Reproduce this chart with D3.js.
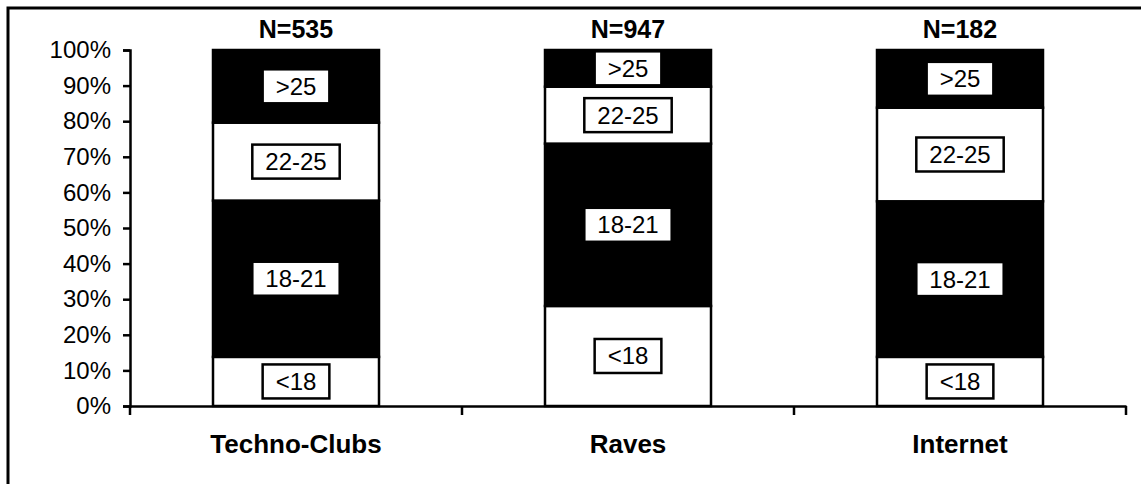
<!DOCTYPE html>
<html>
<head>
<meta charset="utf-8">
<script src="https://cdn.jsdelivr.net/npm/d3@7"></script>
<style>
  html, body { margin: 0; padding: 0; background: #fff; }
  svg { display: block; font-family: "Liberation Sans", Arial, sans-serif; }
</style>
</head>
<body>
<svg id="chart" width="1141" height="484"></svg>
<script>
// ---- data ----
const categories = ["Techno-Clubs", "Raves", "Internet"];
const sampleSizes = ["N=535", "N=947", "N=182"];
const ageGroups = ["<18", "18-21", "22-25", ">25"];
const under18 = [13.8, 28.1, 13.8];
const age18to21 = [43.9, 45.6, 43.7];
const age22to25 = [21.9, 16.0, 26.3];
const over25 = [20.4, 10.3, 16.2];
const yTicks = [0, 10, 20, 30, 40, 50, 60, 70, 80, 90, 100];
const groupFills = ["#ffffff", "#000000", "#ffffff", "#000000"];

// ---- build table ----
const series = [under18, age18to21, age22to25, over25];
const table = categories.map((c, i) => {
  const row = { category: c };
  ageGroups.forEach((g, k) => { row[g] = series[k][i]; });
  return row;
});
const stacked = d3.stack().keys(ageGroups)(table);

const svg = d3.select("#chart");

// outer frame (top & left edges visible)
svg.append("path")
  .attr("d", "M8,484 L8,8 L1141,8")
  .attr("fill", "none").attr("stroke", "#000").attr("stroke-width", 3);

const x = d3.scaleBand().domain(categories).range([130, 1126])
  .paddingInner(0.5).paddingOuter(0.25);
const y = d3.scaleLinear().domain([0, 100]).range([406, 50]);

// bars
const layers = svg.append("g").selectAll("g").data(stacked).join("g")
  .attr("fill", (d, k) => groupFills[k]);
layers.selectAll("rect").data(d => d).join("rect")
  .attr("x", d => x(d.data.category))
  .attr("width", x.bandwidth())
  .attr("y", d => y(d[1]))
  .attr("height", d => y(d[0]) - y(d[1]))
  .attr("stroke", "#000").attr("stroke-width", 2.5);

// y axis
const yAxis = svg.append("g").attr("transform", "translate(130,0)")
  .call(d3.axisLeft(y).tickValues(yTicks).tickFormat(d => d + "%").tickSize(7).tickPadding(12));
yAxis.select(".domain").attr("stroke-width", 2.5);
yAxis.selectAll(".tick line").attr("stroke-width", 2.5);
yAxis.selectAll("text").attr("font-size", 24).attr("fill", "#000")
  .attr("font-family", "'Liberation Sans', Arial, sans-serif");

// x axis
const xAxis = svg.append("g").attr("transform", "translate(0,406)")
  .call(d3.axisBottom(x).tickSize(0).tickSizeOuter(0).tickFormat(""));
xAxis.select(".domain").attr("stroke-width", 2.5);
xAxis.selectAll(".tick").remove();
const step = x.step();
const bounds = [0, 1, 2, 3].map(i => x.range()[0] + i * step);
svg.append("g").selectAll("line").data(bounds).join("line")
  .attr("x1", d => d).attr("x2", d => d)
  .attr("y1", 406).attr("y2", 415)
  .attr("stroke", "#000").attr("stroke-width", 2.5);

// category labels
svg.append("g").selectAll("text").data(categories).join("text")
  .attr("x", d => x(d) + x.bandwidth() / 2)
  .attr("y", 453)
  .attr("text-anchor", "middle")
  .attr("font-size", 26).attr("font-weight", "bold")
  .text(d => d);

// N labels
svg.append("g").selectAll("text").data(categories).join("text")
  .attr("x", d => x(d) + x.bandwidth() / 2)
  .attr("y", 38)
  .attr("text-anchor", "middle")
  .attr("font-size", 25).attr("font-weight", "bold")
  .text((d, i) => sampleSizes[i]);

// segment labels with boxes
const labelG = svg.append("g");
stacked.forEach((layer, k) => {
  layer.forEach(d => {
    const cx = x(d.data.category) + x.bandwidth() / 2;
    const cy = (y(d[0]) + y(d[1])) / 2;
    const g = labelG.append("g");
    const rect = g.append("rect");
    const t = g.append("text")
      .attr("x", cx).attr("y", cy)
      .attr("text-anchor", "middle")
      .attr("dominant-baseline", "central")
      .attr("font-size", 24)
      .text(ageGroups[k]);
    const bb = t.node().getBBox();
    const padX = 13, h = 34;
    rect.attr("x", bb.x - padX).attr("y", cy - h / 2)
      .attr("width", bb.width + 2 * padX).attr("height", h)
      .attr("fill", "#fff")
      .attr("stroke", "#000").attr("stroke-width", 2.5);
  });
});
</script>
</body>
</html>
